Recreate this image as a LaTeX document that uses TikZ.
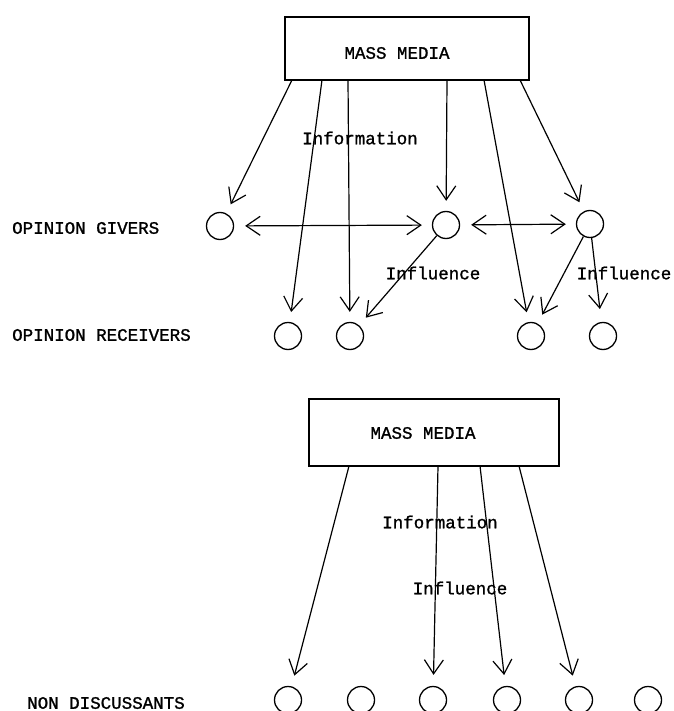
\documentclass[tikz,border=0pt]{standalone}
\usepackage{fontspec}
\newfontfamily\twfont[FakeBold=1.2]{Liberation Mono}
\usetikzlibrary{arrows.meta}
\begin{document}
\begin{tikzpicture}[x=1pt,y=-1pt,
  every node/.style={font=\twfont\fontsize{17.5}{20}\selectfont},
  person/.style={draw,circle,minimum size=27pt,inner sep=0pt,line width=1.3pt},
  mediabox/.style={draw,rectangle,line width=1.3pt,inner sep=0pt},
  lbl/.style={inner sep=0pt},
  arr/.style={line width=1.2pt,-{Straight Barb[length=14pt,width=19pt,line width=1.2pt]},shorten >=10pt},
  darr/.style={line width=1.2pt,{Straight Barb[length=14pt,width=19pt,line width=1.2pt]}-{Straight Barb[length=14pt,width=19pt,line width=1.2pt]},shorten >=10pt,shorten <=11pt}]
\useasboundingbox[fill=white] (0,0) rectangle (673,711);

% ---------- top diagram ----------
\node[mediabox,minimum width=244pt,minimum height=63pt] (mm1) at (407,48.5) {};
\node[lbl] (mm1t) at (397,53) {MASS MEDIA};

\node[person] (og1) at (220,226) {};
\node[person] (og2) at (446,225) {};
\node[person] (og3) at (590,224) {};
\node[person] (r1) at (288,336) {};
\node[person] (r2) at (350,336) {};
\node[person] (r3) at (531,336) {};
\node[person] (r4) at (603,336) {};

\node[lbl,anchor=west] (lg) at (12,228) {OPINION GIVERS};
\node[lbl,anchor=west] (lr) at (12,335) {OPINION RECEIVERS};

\coordinate (t1) at (292,80);
\coordinate (t2) at (322,80);
\coordinate (t3) at (348,80);
\coordinate (t4) at (447,80);
\coordinate (t5) at (484,80);
\coordinate (t6) at (520,80);

\draw[arr] (t1) -- (og1);
\draw[arr] (t2) -- (r1);
\draw[arr] (t3) -- (r2);
\draw[arr] (t4) -- (og2);
\draw[arr] (t5) -- (r3);
\draw[arr] (t6) -- (og3);

\draw[darr] (og1) -- (og2);
\draw[darr] (og2) -- (og3);

\draw[arr] (og2) -- (r2);
\draw[arr] (og3) -- (r3);
\draw[arr,shorten >=13pt] (og3) -- (r4);

\node[lbl] (info1) at (360,138) {Information};
\node[lbl] (infl1) at (433,273) {Influence};
\node[lbl] (infl2) at (624,273) {Influence};

% ---------- bottom diagram ----------
\node[mediabox,minimum width=250pt,minimum height=67pt] (mm2) at (434,432.5) {};
\node[lbl] (mm2t) at (423,433) {MASS MEDIA};

\node[person] (n1) at (288,700) {};
\node[person] (n2) at (361,700) {};
\node[person] (n3) at (433,700) {};
\node[person] (n4) at (507,700) {};
\node[person] (n5) at (579,700) {};
\node[person] (n6) at (648,700) {};

\node[lbl,anchor=west] (ln) at (27,703) {NON DISCUSSANTS};

\coordinate (b1) at (349,466);
\coordinate (b2) at (438,466);
\coordinate (b3) at (480,466);
\coordinate (b4) at (519,466);

\draw[arr,shorten >=11pt] (b1) -- (n1);
\draw[arr,shorten >=11pt] (b2) -- (n3);
\draw[arr,shorten >=11pt] (b3) -- (n4);
\draw[arr,shorten >=11pt] (b4) -- (n5);

\node[lbl] (info2) at (440,522) {Information};
\node[lbl] (infl3) at (460,588) {Influence};
\end{tikzpicture}
\end{document}
